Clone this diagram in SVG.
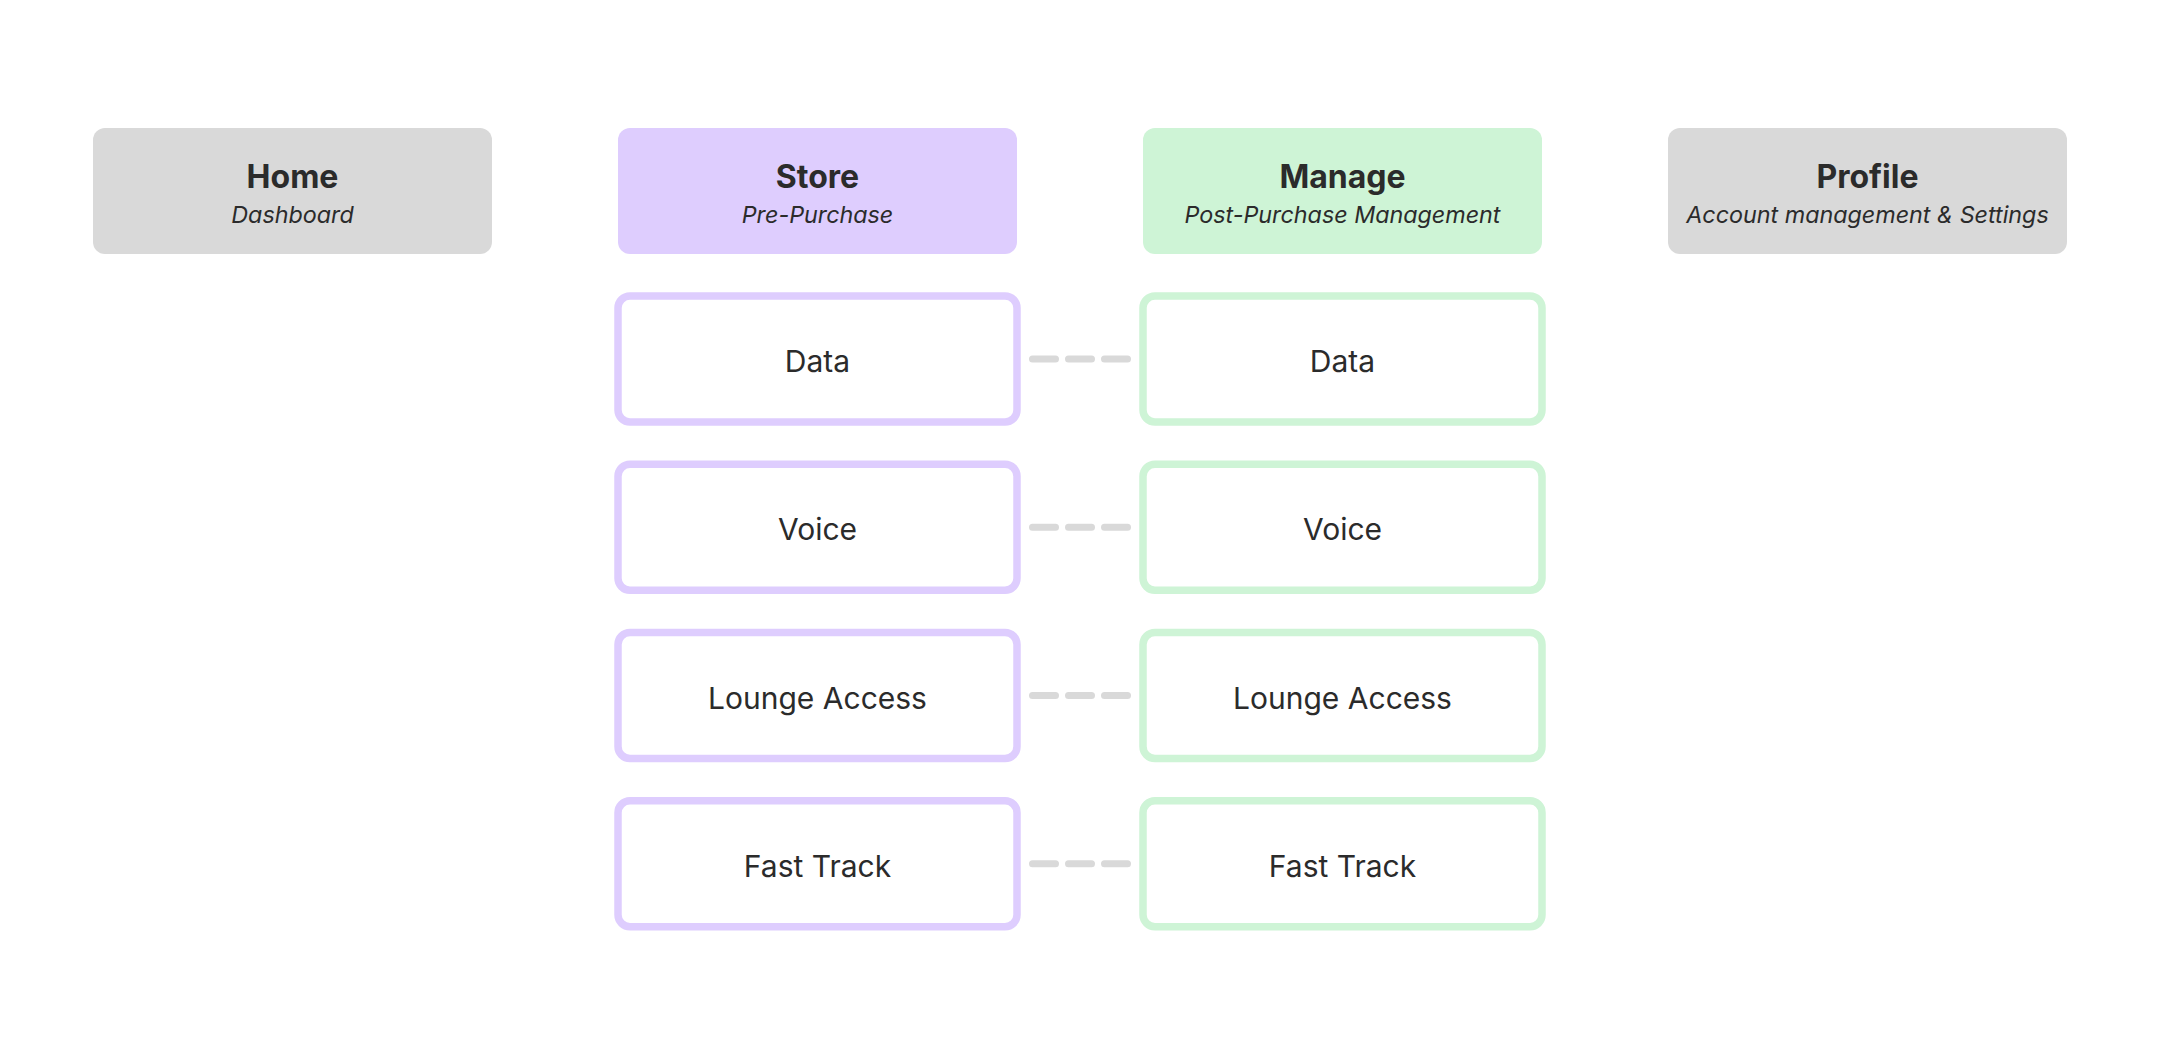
<svg xmlns="http://www.w3.org/2000/svg" width="2158" height="1054" viewBox="0 0 2158 1054">
  <style>
    .hdr-gray { fill: #D9D9D9; }
    .hdr-purple { fill: #DECDFE; }
    .hdr-green { fill: #CEF4D6; }
    .item { fill: #FFFFFF; stroke-width: 7.5; }
    .item-purple { stroke: #DECDFE; }
    .item-green { stroke: #CEF4D6; }
    .title { font-family: Inter, "Liberation Sans", sans-serif; font-weight: 700; font-size: 32px; fill: #2B2B2B; text-anchor: middle; }
    .sub { font-family: Inter, "Liberation Sans", sans-serif; font-style: italic; font-size: 23.3px; fill: #2B2B2B; text-anchor: middle; }
    .label { font-family: Inter, "Liberation Sans", sans-serif; font-size: 30px; fill: #2B2B2B; text-anchor: middle; }
    .dash { stroke: #D9D9D9; stroke-width: 7; stroke-linecap: round; stroke-dasharray: 23 13; fill: none; }
  </style>
  <rect width="2158" height="1054" fill="#FFFFFF"/>

  <g id="home">
    <rect class="hdr-gray" x="93" y="128" width="399" height="126" rx="12"/>
    <text class="title" x="292.5" y="187.5">Home</text>
    <text class="sub" x="292.5" y="222.5">Dashboard</text>
  </g>
  <g id="store">
    <rect class="hdr-purple" x="618" y="128" width="399" height="126" rx="12"/>
    <text class="title" x="817.5" y="187.5">Store</text>
    <text class="sub" x="817.5" y="222.5">Pre-Purchase</text>
  </g>
  <g id="manage">
    <rect class="hdr-green" x="1143" y="128" width="399" height="126" rx="12"/>
    <text class="title" x="1342.5" y="187.5">Manage</text>
    <text class="sub" x="1342.5" y="222.5">Post-Purchase Management</text>
  </g>
  <g id="profile">
    <rect class="hdr-gray" x="1668" y="128" width="399" height="126" rx="12"/>
    <text class="title" x="1867.5" y="187.5">Profile</text>
    <text class="sub" x="1867.5" y="222.5">Account management &amp; Settings</text>
  </g>

  <g id="store-data">
    <rect class="item item-purple" x="618" y="296" width="399" height="126" rx="12"/>
    <text class="label" x="817.5" y="372">Data</text>
  </g>
  <g id="store-voice">
    <rect class="item item-purple" x="618" y="464.25" width="399" height="126" rx="12"/>
    <text class="label" x="817.5" y="540.25">Voice</text>
  </g>
  <g id="store-lounge">
    <rect class="item item-purple" x="618" y="632.5" width="399" height="126" rx="12"/>
    <text class="label" x="817.5" y="708.5">Lounge Access</text>
  </g>
  <g id="store-fasttrack">
    <rect class="item item-purple" x="618" y="800.75" width="399" height="126" rx="12"/>
    <text class="label" x="817.5" y="876.75">Fast Track</text>
  </g>

  <g id="manage-data">
    <rect class="item item-green" x="1143" y="296" width="399" height="126" rx="12"/>
    <text class="label" x="1342.5" y="372">Data</text>
  </g>
  <g id="manage-voice">
    <rect class="item item-green" x="1143" y="464.25" width="399" height="126" rx="12"/>
    <text class="label" x="1342.5" y="540.25">Voice</text>
  </g>
  <g id="manage-lounge">
    <rect class="item item-green" x="1143" y="632.5" width="399" height="126" rx="12"/>
    <text class="label" x="1342.5" y="708.5">Lounge Access</text>
  </g>
  <g id="manage-fasttrack">
    <rect class="item item-green" x="1143" y="800.75" width="399" height="126" rx="12"/>
    <text class="label" x="1342.5" y="876.75">Fast Track</text>
  </g>

  <g id="connectors">
    <line class="dash" x1="1032.5" y1="359" x2="1127.5" y2="359"/>
    <line class="dash" x1="1032.5" y1="527.25" x2="1127.5" y2="527.25"/>
    <line class="dash" x1="1032.5" y1="695.5" x2="1127.5" y2="695.5"/>
    <line class="dash" x1="1032.5" y1="863.75" x2="1127.5" y2="863.75"/>
  </g>
</svg>
